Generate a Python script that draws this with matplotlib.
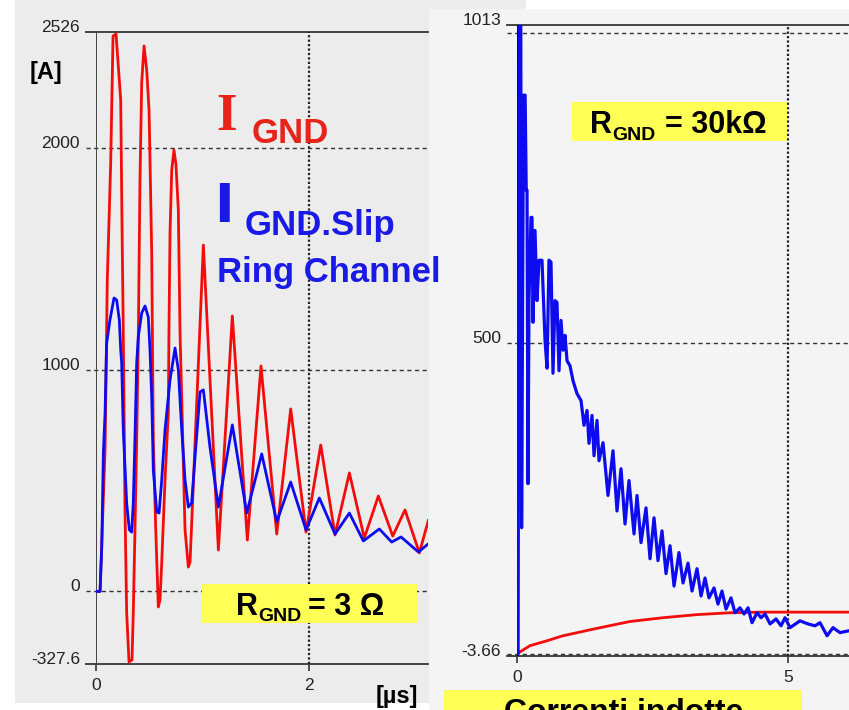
import matplotlib
matplotlib.use('Agg')
import matplotlib.pyplot as plt
from matplotlib.patches import Rectangle
from matplotlib.transforms import ScaledTranslation

plt.rcParams['font.family'] = ['Liberation Sans', 'DejaVu Sans']

# ---------------- data ----------------
# Left panel: R_GND = 3 ohm, time in microseconds, current in A
left_red_t = [0, 0.038, 0.085, 0.106, 0.138, 0.160, 0.188, 0.232, 0.244, 0.256,
              0.272, 0.288, 0.310, 0.338, 0.350, 0.366, 0.382, 0.397, 0.413, 0.429,
              0.451, 0.476, 0.498, 0.507, 0.523, 0.538, 0.561, 0.585, 0.601, 0.617,
              0.648, 0.679, 0.685, 0.695, 0.711, 0.732, 0.751, 0.773, 0.789, 0.814,
              0.836, 0.867, 0.883, 1.008, 1.149, 1.280, 1.421, 1.549, 1.697, 1.828,
              1.972, 2.110, 2.244, 2.379, 2.519, 2.651, 2.786, 2.901, 3.036, 3.12]
left_red_a = [0, 0, 639, 1406, 1935, 2508, 2517, 2219, 1664, 1181,
              381, -97, -318, -309, -97, 278, 684, 1135, 1858, 2296,
              2463, 2354, 2174, 1948, 1528, 684, 278, -70, -38, 129,
              503, 806, 1181, 1618, 1903, 1993, 1926, 1722, 1167, 697,
              278, 110, 133, 1564, 187, 1244, 232, 1018, 259, 824,
              268, 661, 255, 535, 241, 431, 250, 368, 174, 320]

left_blue_t = [0, 0.038, 0.054, 0.069, 0.085, 0.100, 0.131, 0.169, 0.194, 0.219,
               0.232, 0.241, 0.256, 0.288, 0.313, 0.335, 0.350, 0.366, 0.382, 0.397,
               0.429, 0.460, 0.491, 0.507, 0.523, 0.538, 0.570, 0.592, 0.617, 0.648,
               0.695, 0.742, 0.773, 0.805, 0.836, 0.867, 0.898, 0.930, 0.977, 1.008,
               1.070, 1.149, 1.280, 1.415, 1.556, 1.697, 1.828, 1.972, 2.097, 2.244,
               2.379, 2.510, 2.660, 2.776, 2.864, 3.027, 3.12]
left_blue_a = [0, 0, 201, 625, 806, 1120, 1226, 1325, 1316, 1226,
               1090, 1032, 729, 399, 278, 268, 399, 697, 1032, 1149,
               1257, 1289, 1239, 1090, 878, 548, 359, 354, 503, 729,
               955, 1099, 1000, 729, 503, 381, 399, 607, 901, 910,
               652, 381, 752, 354, 621, 314, 494, 278, 422, 259,
               354, 228, 282, 223, 246, 178, 215]

# Right panel: R_GND = 30 kohm
right_blue_t = [0, 0.02, 0.04, 0.07, 0.085, 0.10, 0.12, 0.15, 0.17, 0.185,
                0.203, 0.221, 0.258, 0.277, 0.295, 0.332, 0.369, 0.406, 0.461, 0.517,
                0.554, 0.590, 0.627, 0.664, 0.701, 0.738, 0.775, 0.812, 0.849, 0.886,
                0.923, 0.978, 1.033, 1.107, 1.181, 1.236, 1.292, 1.328, 1.384, 1.421,
                1.476, 1.513, 1.587, 1.679, 1.771, 1.845, 1.919, 1.993, 2.066, 2.159,
                2.214, 2.288, 2.380, 2.454, 2.528, 2.601, 2.675, 2.749, 2.823, 2.897,
                2.989, 3.063, 3.155, 3.229, 3.321, 3.395, 3.469, 3.542, 3.635, 3.708,
                3.782, 3.856, 3.948, 4.022, 4.114, 4.188, 4.262, 4.336, 4.428, 4.502,
                4.576, 4.668, 4.779, 4.871, 4.945, 5.037, 5.221, 5.369, 5.498, 5.590,
                5.720, 5.830, 5.959, 6.125]
right_blue_a = [0, 0, 1013, 1013, 203, 500, 900, 900, 747, 747,
                274, 569, 703, 703, 534, 682, 569, 634, 634, 505,
                460, 634, 631, 452, 569, 566, 456, 537, 489, 513,
                472, 464, 440, 419, 408, 368, 392, 339, 384, 319,
                376, 311, 340, 255, 327, 230, 298, 209, 279, 193,
                255, 179, 235, 153, 219, 150, 198, 129, 174, 109,
                163, 114, 146, 101, 137, 93, 122, 90, 106, 80,
                101, 72, 90, 66, 74, 64, 74, 50, 66, 58,
                64, 48, 56, 45, 58, 42, 53, 48, 45, 50,
                29, 42, 34, 37]

right_red_t = [0, 0.24, 0.52, 0.85, 1.48, 2.09, 2.69, 3.32, 3.93, 4.50, 6.125]
right_red_a = [0, 13, 20, 29, 41, 52, 58, 63, 66, 67, 67]

left_yticks = [-327.6, 0, 1000, 2000, 2526]
left_ytick_labels = ['-327.6', '0', '1000', '2000', '2526']
left_xticks = [0, 2]
right_yticks = [-3.66, 500, 1013]
right_ytick_labels = ['-3.66', '500', '1013']
right_xticks = [0, 5]

# ---------------- figure ----------------
W, H = 849, 710
fig = plt.figure(figsize=(W / 100, H / 100), dpi=100)

RED = '#f20c0c'
BLUE = '#0c0cee'
TXT_RED = '#e6241a'
TXT_BLUE = '#1a1ae6'
YELLOW = '#ffff55'


def rect(x0, y0, x1, y1, color, z):
    fig.patches.append(Rectangle((x0 / W, 1 - y1 / H), (x1 - x0) / W, (y1 - y0) / H,
                                 transform=fig.transFigure, facecolor=color,
                                 edgecolor='none', zorder=z))


def ftext(x, y, s, **kw):
    fig.text(x / W, 1 - y / H, s, **kw)


# backgrounds of the two screenshots
rect(15, 0, 526, 703, '#ececec', -2)
rect(429, 9, 849, 710, '#f4f4f4', -1)

lift = ScaledTranslation(0, 6 / 100, fig.dpi_scale_trans)


def style_axes(ax, xlim, ylim, top, bottom, grid_y, grid_x, yticks, ylabels, xticks,
               spine_color, spine_lw):
    ax.set_facecolor('none')
    ax.set_xlim(*xlim)
    ax.set_ylim(*ylim)
    for s in ax.spines.values():
        s.set_visible(False)
    ax.axhline(top, xmin=-0.03, xmax=1, color='#444444', lw=1.4, clip_on=False, zorder=1)
    ax.axhline(bottom, xmin=-0.03, xmax=1, color='#444444', lw=1.4, clip_on=False, zorder=1)
    for g in grid_y:
        ax.axhline(g, xmin=-0.03, xmax=1, color='#333333', lw=1.0,
                   ls=(0, (3, 2.5)), clip_on=False, zorder=1)
    for g in grid_x:
        ax.axvline(g, color='#222222', lw=1.6, ls=(0, (1, 1)), zorder=1)
    ax.axvline(0, color=spine_color, lw=spine_lw, zorder=1)
    ax.set_yticks(yticks)
    ax.set_yticklabels(ylabels)
    ax.set_xticks(xticks)
    ax.set_xticklabels([str(v) for v in xticks])
    ax.tick_params(axis='y', length=0, pad=11.5, labelsize=12.5, labelcolor='#222222')
    ax.tick_params(axis='x', length=5, width=1.3, color='#444444', pad=5,
                   labelsize=12.5, labelcolor='#222222')
    for lab in ax.get_yticklabels():
        lab.set_transform(lab.get_transform() + lift)


axL = fig.add_axes([96 / W, 1 - 664 / H, 332 / W, 632 / H])
style_axes(axL, (0, 3.117), (-327.6, 2526), 2526, -327.6, [2000, 1000, 0], [2],
           left_yticks, left_ytick_labels, left_xticks, '#444444', 1.4)
axL.plot(left_red_t, left_red_a, color=RED, lw=2.0, zorder=2)
axL.plot(left_blue_t, left_blue_a, color=BLUE, lw=2.0, zorder=3)

axR = fig.add_axes([517 / W, 1 - 656 / H, 332 / W, 631 / H])
style_axes(axR, (0, 6.125), (-3.66, 1013), 1013, -3.66, [1000, 500, 0], [5],
           right_yticks, right_ytick_labels, right_xticks, '#000000', 2.2)
axR.plot(right_red_t, right_red_a, color=RED, lw=2.0, zorder=2)
axR.plot(right_blue_t, right_blue_a, color=BLUE, lw=2.3, zorder=3)

# yellow label boxes (drawn above the axes)
rect(202, 584, 417, 623, YELLOW, 1)
rect(572, 102, 787, 141, YELLOW, 1)
rect(444, 690, 802, 710, YELLOW, 1)

# unit labels
ftext(46, 73, '[A]', ha='center', va='center', fontsize=17, fontweight='bold', zorder=4)
ftext(397, 697, '[µs]', ha='center', va='center', fontsize=17, fontweight='bold', zorder=4)

# series captions
ftext(216, 130, 'I', family='Liberation Serif', fontweight='bold', fontsize=38,
      color=TXT_RED, va='baseline', zorder=4)
ftext(252, 143, 'GND', fontweight='bold', fontsize=25, color=TXT_RED, va='baseline', zorder=4)
ftext(214, 222, 'I', family='DejaVu Sans', fontweight='bold', fontsize=38,
      color=TXT_BLUE, va='baseline', zorder=4)
ftext(245, 235, 'GND.Slip', fontweight='bold', fontsize=25, color=TXT_BLUE,
      va='baseline', zorder=4)
ftext(217, 282, 'Ring Channel', fontweight='bold', fontsize=25, color=TXT_BLUE,
      va='baseline', zorder=4)

# R_GND boxes
ftext(236, 615, 'R', fontweight='bold', fontsize=22, va='baseline', zorder=4)
ftext(258, 621, 'GND', fontweight='bold', fontsize=14, va='baseline', zorder=4)
ftext(308, 615, '= 3 Ω', fontweight='bold', fontsize=22, va='baseline', zorder=4)

ftext(590, 133, 'R', fontweight='bold', fontsize=22, va='baseline', zorder=4)
ftext(612, 140, 'GND', fontweight='bold', fontsize=14, va='baseline', zorder=4)
ftext(665, 133, '= 30kΩ', fontweight='bold', fontsize=22, va='baseline', zorder=4)

ftext(624, 721, 'Correnti indotte', ha='center', fontweight='bold', fontsize=23,
      va='baseline', zorder=4)

fig.savefig('out.png', dpi=100)
